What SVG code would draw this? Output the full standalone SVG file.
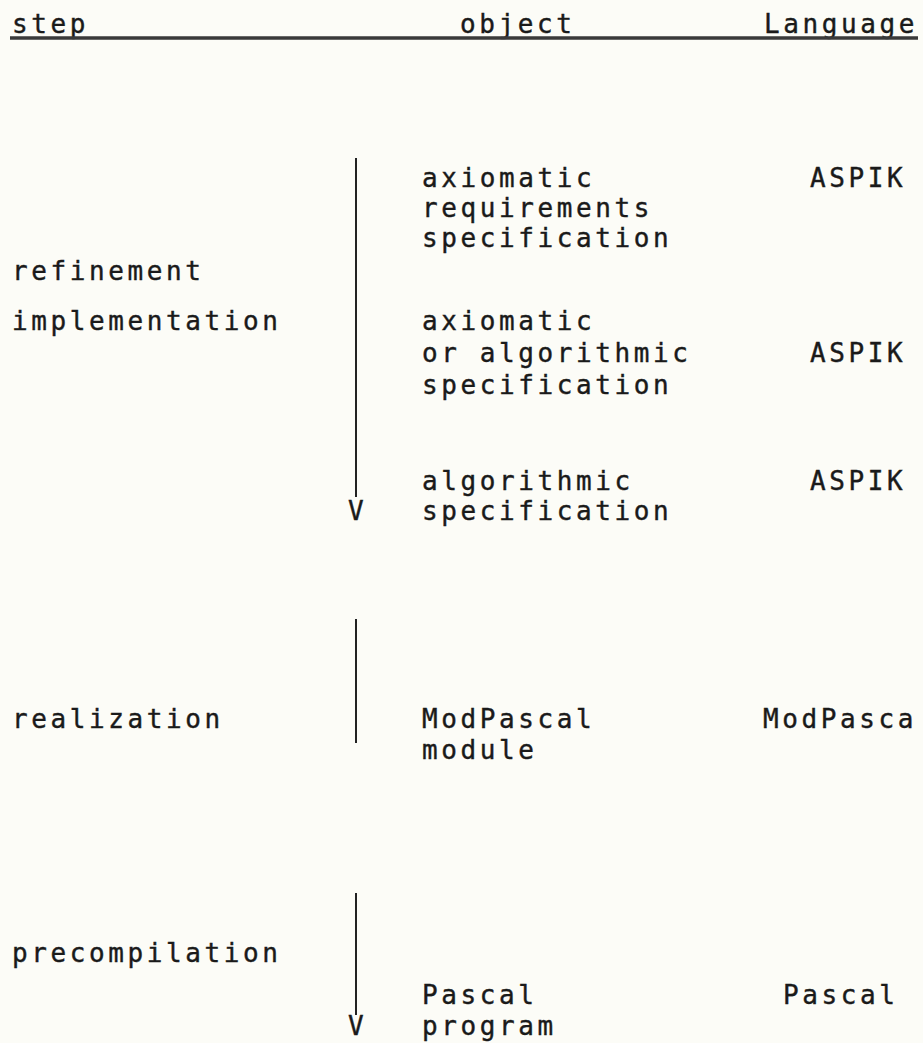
<svg xmlns="http://www.w3.org/2000/svg" width="923" height="1043" viewBox="0 0 923 1043">
<style>
text{font-family:"DejaVu Sans Mono","Liberation Mono",monospace;font-size:26px;letter-spacing:3.6px;fill:#1a1a1a;stroke:#1a1a1a;stroke-width:0.4px}
.ln{stroke:#222;stroke-width:2;fill:none}
</style>
<rect width="923" height="1043" fill="#fcfcf7"/>
<g id="header">
<text x="12" y="33">step</text>
<text x="460" y="33">object</text>
<text x="764" y="33">Language</text>
<line x1="10" y1="38" x2="918" y2="38" stroke="#3a3a3a" stroke-width="3.5"/>
</g>
<g id="connectors">
<line class="ln" x1="356" y1="158" x2="356" y2="497"/>
<line class="ln" x1="356" y1="619" x2="356" y2="743"/>
<line class="ln" x1="356" y1="893" x2="356" y2="1015"/>
<text x="348" y="520">V</text>
<text x="348" y="1035">V</text>
</g>
<g id="steps">
<text x="12" y="280">refinement</text>
<text x="12" y="330">implementation</text>
<text x="12" y="728">realization</text>
<text x="12" y="962">precompilation</text>
</g>
<g id="obj1"><text x="422" y="187">axiomatic</text><text x="422" y="217">requirements</text><text x="422" y="247">specification</text></g>
<g id="obj2"><text x="422" y="330">axiomatic</text><text x="422" y="362">or algorithmic</text><text x="422" y="394">specification</text></g>
<g id="obj3"><text x="422" y="490">algorithmic</text><text x="422" y="520">specification</text></g>
<g id="obj4"><text x="422" y="728">ModPascal</text><text x="422" y="759">module</text></g>
<g id="obj5"><text x="422" y="1004">Pascal</text><text x="422" y="1035">program</text></g>
<g id="lang">
<text x="810" y="187">ASPIK</text>
<text x="810" y="362">ASPIK</text>
<text x="810" y="490">ASPIK</text>
<text x="763" y="728">ModPasca</text>
<text x="783" y="1004">Pascal</text>
</g>
</svg>
